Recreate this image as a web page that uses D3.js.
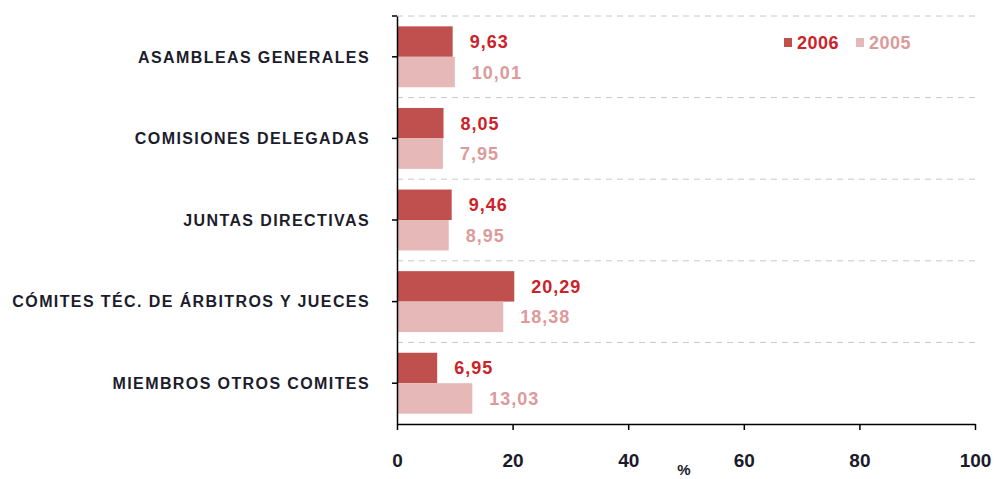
<html>
<head>
<meta charset="utf-8">
<script src="https://d3js.org/d3.v7.min.js"></script>
<style>
body { margin: 0; background: #fff; font-family: "Liberation Sans", Arial, sans-serif; }
</style>
</head>
<body>
<div id="chart"></div>
<script>
	var categories = ["ASAMBLEAS GENERALES", "COMISIONES DELEGADAS", "JUNTAS DIRECTIVAS",
		"CÓMITES TÉC. DE ÁRBITROS Y JUECES", "MIEMBROS OTROS COMITES"];
	var values2006 = [9.63, 8.05, 9.46, 20.29, 6.95];
	var values2005 = [10.01, 7.95, 8.95, 18.38, 13.03];
	var series = ["2006", "2005"];
	var xTicks = [0, 20, 40, 60, 80, 100];

	var colors = { "2006": "#c0504d", "2005": "#e6b9b8" };
	var labelColors = { "2006": "#cc2229", "2005": "#dc9a9b" };

	var width = 995, height = 479;
	var margin = { top: 16, left: 397, right: 20, bottom: 55 };

	var svg = d3.select("#chart").append("svg")
		.attr("width", width)
		.attr("height", height);

	var x = d3.scaleLinear()
		.domain([0, 100])
		.range([margin.left, width - margin.right]);

	var y = d3.scaleBand()
		.domain(categories)
		.range([margin.top, height - margin.bottom]);

	var inner = d3.scaleBand()
		.domain(series)
		.range([0, y.bandwidth()])
		.paddingOuter(0.34)
		.paddingInner(0);

	// dashed gridlines at the band boundaries
	svg.append("g")
		.selectAll("line")
		.data(categories)
		.enter().append("line")
		.attr("x1", x(0))
		.attr("x2", x(100))
		.attr("y1", d => y(d))
		.attr("y2", d => y(d))
		.attr("stroke", "#c8c8c8")
		.attr("stroke-dasharray", "6,5");

	var rows = categories.map((c, i) => ({ cat: c, "2006": values2006[i], "2005": values2005[i] }));

	var groups = svg.selectAll("g.row")
		.data(rows)
		.enter().append("g")
		.attr("class", "row")
		.attr("transform", d => "translate(0," + y(d.cat) + ")");

	series.forEach(function(s) {
		groups.append("rect")
			.attr("x", x(0))
			.attr("y", inner(s))
			.attr("width", d => x(d[s]) - x(0))
			.attr("height", inner.bandwidth())
			.attr("fill", colors[s]);

		groups.append("text")
			.attr("x", d => x(d[s]) + 17)
			.attr("y", inner(s) + inner.bandwidth() / 2)
			.attr("dy", "0.36em")
			.style("font-size", "18px")
			.style("font-weight", "bold")
			.style("letter-spacing", "1px")
			.style("fill", labelColors[s])
			.text(d => d3.format(".2f")(d[s]).replace(".", ","));
	});

	// y axis
	var yAxis = svg.append("g")
		.attr("transform", "translate(" + x(0) + ",0)")
		.call(d3.axisLeft(y).tickSize(5).tickSizeOuter(0).tickFormat(""));
	yAxis.select(".domain").attr("stroke", "#000").attr("stroke-width", 1.5);
	yAxis.selectAll(".tick line").attr("stroke", "#000").attr("stroke-width", 1.5);
	yAxis.append("line").attr("x1", -5).attr("x2", 0)
		.attr("y1", margin.top).attr("y2", margin.top)
		.attr("stroke", "#000").attr("stroke-width", 1.5);

	svg.append("g")
		.selectAll("text")
		.data(categories)
		.enter().append("text")
		.attr("x", 370)
		.attr("y", d => y(d) + y.bandwidth() / 2)
		.attr("dy", "0.36em")
		.attr("text-anchor", "end")
		.style("font-size", "16px")
		.style("font-weight", "bold")
		.style("letter-spacing", "1.4px")
		.style("fill", "#1c1c2c")
		.text(d => d);

	// x axis
	var xAxis = svg.append("g")
		.attr("transform", "translate(0," + (height - margin.bottom) + ")")
		.call(d3.axisBottom(x).tickValues(xTicks).tickSize(6).tickSizeOuter(0).tickPadding(24));
	xAxis.select(".domain").attr("stroke", "#000").attr("stroke-width", 1.5);
	xAxis.selectAll(".tick line").attr("stroke", "#000").attr("stroke-width", 1.5);
	xAxis.selectAll(".tick text")
		.style("font-family", "'Liberation Sans', Arial, sans-serif")
		.style("font-size", "19px")
		.style("font-weight", "bold")
		.style("fill", "#1a1a2a");

	svg.append("text")
		.attr("x", 684)
		.attr("y", 475)
		.attr("text-anchor", "middle")
		.style("font-size", "15px")
		.style("font-weight", "bold")
		.style("fill", "#1a1a2a")
		.text("%");

	// legend
	var legend = svg.append("g").attr("transform", "translate(784,38)");
	var lx = [0, 72];
	series.forEach(function(s, i) {
		legend.append("rect")
			.attr("x", lx[i]).attr("y", 0)
			.attr("width", 8).attr("height", 9)
			.attr("fill", colors[s]);
		legend.append("text")
			.attr("x", lx[i] + 13).attr("y", 11)
			.style("font-size", "18px")
			.style("font-weight", "bold")
			.style("letter-spacing", "0.5px")
			.style("fill", labelColors[s])
			.text(s);
	});
</script>
</body>
</html>
